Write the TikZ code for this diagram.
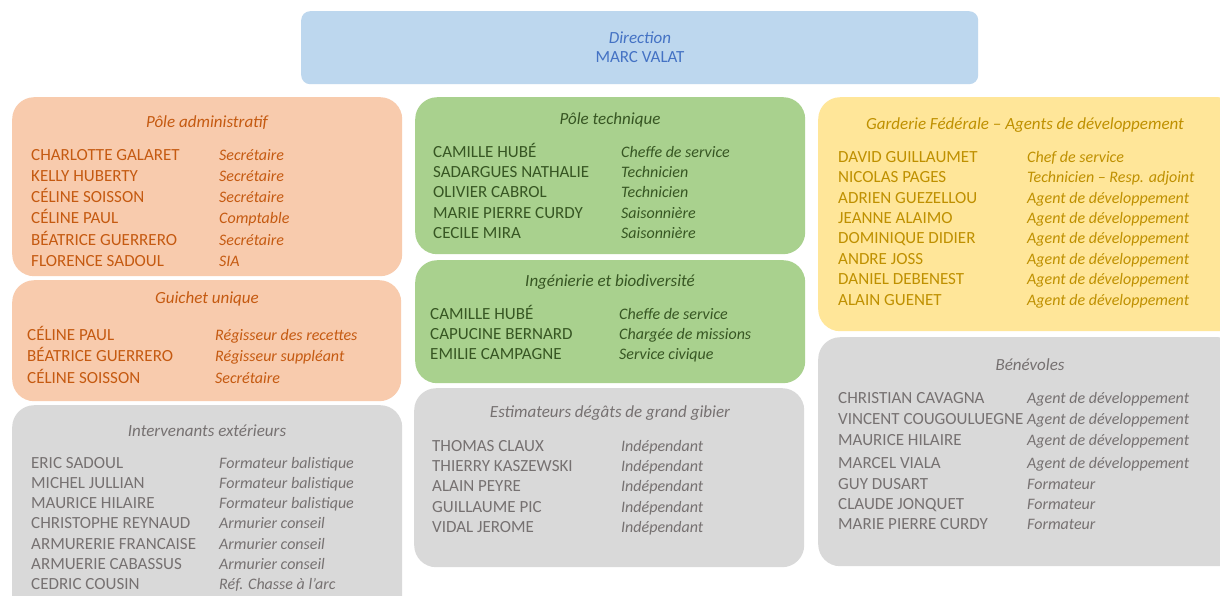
\documentclass[tikz,border=0pt]{standalone}
\usepackage{fontspec}
\setmainfont{Carlito}
\usetikzlibrary{positioning}
\definecolor{dirfond}{HTML}{BDD7EE}
\definecolor{dirtexte}{HTML}{4472C4}
\definecolor{admfond}{HTML}{F8CBAD}
\definecolor{admtexte}{HTML}{C55A11}
\definecolor{tecfond}{HTML}{A9D18E}
\definecolor{tectexte}{HTML}{375623}
\definecolor{garfond}{HTML}{FFE699}
\definecolor{gartexte}{HTML}{BF9000}
\definecolor{grisfond}{HTML}{D9D9D9}
\definecolor{gristexte}{HTML}{767171}
\tikzset{
	boite/.style={
		rectangle,
		rounded corners=22pt,
		anchor=north west,
		inner sep=0pt},
	titre/.style={
		font=\fontsize{17}{20}\selectfont\itshape,
		yshift=-1pt,
		inner sep=0pt},
	nom/.style={
		anchor=mid west,
		font=\fontsize{17}{20}\selectfont,
		yshift=-3pt,
		inner sep=0pt},
	role/.style={
		anchor=mid west,
		font=\fontsize{16}{19}\selectfont\itshape,
		yshift=-3pt,
		inner sep=0pt},
}
\begin{document}
\begin{tikzpicture}
	[x=1pt, y=-1pt]
	\clip (0,0) rectangle (1220,595);
	\fill[white] (0,0) rectangle (1220,595);
	% Direction
	\node[boite, rounded corners=9pt, fill=dirfond, minimum width=677pt, minimum height=73pt] (dir) at (301,11) {};
	\node[titre, text=dirtexte] (dir-t) at (640,37) {Direction};
	\node[nom, anchor=mid, text=dirtexte] (dir-n) at (640,57) {MARC VALAT};
	% cadres
	\node[boite, fill=admfond, minimum width=390pt, minimum height=179pt] (adm) at (12,97) {};
	\node[boite, fill=admfond, minimum width=389pt, minimum height=121pt] (gui) at (12,280) {};
	\node[boite, fill=grisfond, minimum width=390pt, minimum height=215pt] (ext) at (12,405) {};
	\node[boite, fill=tecfond, minimum width=390pt, minimum height=157pt] (tec) at (415,97) {};
	\node[boite, fill=tecfond, minimum width=390pt, minimum height=123pt] (ing) at (415,260) {};
	\node[boite, fill=grisfond, minimum width=390pt, minimum height=179pt] (est) at (414,388) {};
	\node[boite, fill=garfond, minimum width=422pt, minimum height=234pt] (gar) at (818,97) {};
	\node[boite, fill=grisfond, minimum width=422pt, minimum height=229pt] (ben) at (818,337) {};
	% Pole administratif
	\node[titre, text=admtexte] (adm-t) at (207,122) {Pôle administratif};
	\foreach \n/\r [count=\i] in {CHARLOTTE GALARET/Secrétaire, KELLY HUBERTY/Secrétaire,
		CÉLINE SOISSON/Secrétaire, CÉLINE PAUL/Comptable, BÉATRICE GUERRERO/Secrétaire,
		FLORENCE SADOUL/SIA}{
		\node[nom, text=admtexte] (adm-n\i) at (31,{155+(\i-1)*21.2}) {\n};
		\node[role, text=admtexte] (adm-r\i) at (219,{155+(\i-1)*21.2}) {\r};
	}
	% Guichet unique
	\node[titre, text=admtexte] (gui-t) at (207,298) {Guichet unique};
	\foreach \n/\r [count=\i] in {CÉLINE PAUL/Régisseur des recettes,
		BÉATRICE GUERRERO/Régisseur suppléant, CÉLINE SOISSON/Secrétaire}{
		\node[nom, text=admtexte] (gui-n\i) at (27,{335+(\i-1)*21.5}) {\n};
		\node[role, text=admtexte] (gui-r\i) at (215,{335+(\i-1)*21.5}) {\r};
	}
	% Intervenants exterieurs
	\node[titre, text=gristexte] (ext-t) at (207,430) {Intervenants extérieurs};
	\foreach \n/\r [count=\i] in {ERIC SADOUL/Formateur balistique, MICHEL JULLIAN/Formateur balistique,
		MAURICE HILAIRE/Formateur balistique, CHRISTOPHE REYNAUD/Armurier conseil,
		ARMURERIE FRANCAISE/Armurier conseil, ARMUERIE CABASSUS/Armurier conseil,
		CEDRIC COUSIN/Réf. Chasse à l’arc}{
		\node[nom, text=gristexte] (ext-n\i) at (31,{463+(\i-1)*20.2}) {\n};
		\node[role, text=gristexte] (ext-r\i) at (219,{463+(\i-1)*20.2}) {\r};
	}
	% Pole technique
	\node[titre, text=tectexte] (tec-t) at (610,119) {Pôle technique};
	\foreach \n/\r [count=\i] in {CAMILLE HUBÉ/Cheffe de service, SADARGUES NATHALIE/Technicien,
		OLIVIER CABROL/Technicien, MARIE PIERRE CURDY/Saisonnière, CECILE MIRA/Saisonnière}{
		\node[nom, text=tectexte] (tec-n\i) at (433,{152+(\i-1)*20.3}) {\n};
		\node[role, text=tectexte] (tec-r\i) at (621,{152+(\i-1)*20.3}) {\r};
	}
	% Ingenierie
	\node[titre, text=tectexte] (ing-t) at (610,281) {Ingénierie et biodiversité};
	\foreach \n/\r [count=\i] in {CAMILLE HUBÉ/Cheffe de service,
		CAPUCINE BERNARD/Chargée de missions, EMILIE CAMPAGNE/Service civique}{
		\node[nom, text=tectexte] (ing-n\i) at (430,{314+(\i-1)*20}) {\n};
		\node[role, text=tectexte] (ing-r\i) at (619,{314+(\i-1)*20}) {\r};
	}
	% Estimateurs
	\node[titre, text=gristexte] (est-t) at (610,412) {Estimateurs dégâts de grand gibier};
	\foreach \n [count=\i] in {THOMAS CLAUX, THIERRY KASZEWSKI, ALAIN PEYRE,
		GUILLAUME PIC, VIDAL JEROME}{
		\node[nom, text=gristexte] (est-n\i) at (432,{446+(\i-1)*20.3}) {\n};
		\node[role, text=gristexte] (est-r\i) at (621,{446+(\i-1)*20.3}) {Indépendant};
	}
	% Garderie
	\node[titre, text=gartexte] (gar-t) at (1025,124) {Garderie Fédérale – Agents de développement};
	\foreach \n/\r [count=\i] in {DAVID GUILLAUMET/Chef de service,
		NICOLAS PAGES/Technicien – Resp. adjoint, ADRIEN GUEZELLOU/Agent de développement,
		JEANNE ALAIMO/Agent de développement, DOMINIQUE DIDIER/Agent de développement,
		ANDRE JOSS/Agent de développement, DANIEL DEBENEST/Agent de développement,
		ALAIN GUENET/Agent de développement}{
		\node[nom, text=gartexte] (gar-n\i) at (838,{157+(\i-1)*20.4}) {\n};
		\node[role, text=gartexte] (gar-r\i) at (1027,{157+(\i-1)*20.4}) {\r};
	}
	% Benevoles
	\node[titre, text=gristexte] (ben-t) at (1030,364) {Bénévoles};
	\foreach \n/\r/\y [count=\i] in {CHRISTIAN CAVAGNA/Agent de développement/398,
		VINCENT COUGOULUEGNE/Agent de développement/419,
		MAURICE HILAIRE/Agent de développement/440, MARCEL VIALA/Agent de développement/463,
		GUY DUSART/Formateur/484, CLAUDE JONQUET/Formateur/504,
		MARIE PIERRE CURDY/Formateur/524}{
		\node[nom, text=gristexte] (ben-n\i) at (838,\y) {\n};
		\node[role, text=gristexte] (ben-r\i) at (1027,\y) {\r};
	}
\end{tikzpicture}
\end{document}
